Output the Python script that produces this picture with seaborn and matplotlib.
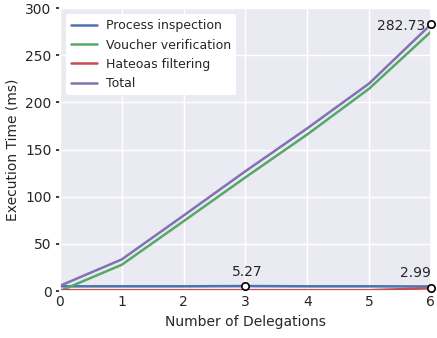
import matplotlib
matplotlib.use("Agg")
import matplotlib.pyplot as plt
import pandas as pd
import seaborn as sns

# data
delegations = [0, 1, 2, 3, 4, 5, 6]
process_inspection = [5.0, 5.0, 5.0, 5.27, 5.0, 5.0, 4.8]
voucher_verification = [0.0, 27.8, 74.0, 120.5, 166.0, 214.5, 274.9]
hateoas_filtering = [0.8, 0.8, 0.8, 0.8, 0.8, 0.8, 2.99]
total = [5.5, 33.5, 80.0, 127.0, 172.5, 220.0, 282.73]

series_names = ["Process inspection", "Voucher verification", "Hateoas filtering", "Total"]
palette = ["#4C72B0", "#55A868", "#C44E52", "#8172B2"]

# highlighted points (x, y)
marked_x = [3, 6, 6]
marked_y = [5.27, 2.99, 282.73]

rows = []
for name, vals in zip(series_names, [process_inspection, voucher_verification, hateoas_filtering, total]):
    for x, v in zip(delegations, vals):
        rows.append({"Number of Delegations": x, "Execution Time (ms)": v, "series": name})
df = pd.DataFrame(rows)

sns.set_theme(style="darkgrid", rc={
    "axes.facecolor": "#EAEAF2",
    "xtick.bottom": True, "ytick.left": True,
    "xtick.major.size": 0, "ytick.major.size": 3,
    "ytick.color": "#262626", "xtick.color": "#262626",
})
plt.rcParams["font.family"] = ["DejaVu Sans"]

fig = plt.figure(figsize=(4.37, 3.38), dpi=100)
ax = fig.add_axes([0.137, 0.139, 0.849, 0.837])

sns.lineplot(data=df, x="Number of Delegations", y="Execution Time (ms)",
             hue="series", palette=palette, linewidth=1.8, ax=ax)

ax.scatter(marked_x, marked_y, s=28, facecolor="white", edgecolor="black",
           linewidth=1.2, zorder=5, clip_on=False)
ax.annotate(f"{marked_y[0]:.2f}", (marked_x[0], marked_y[0]), xytext=(1, 5),
            textcoords="offset points", ha="center", va="bottom", fontsize=10, color="#262626")
ax.annotate(f"{marked_y[1]:.2f}", (marked_x[1], marked_y[1]), xytext=(0, 6),
            textcoords="offset points", ha="right", va="bottom", fontsize=10, color="#262626")
ax.annotate(f"{marked_y[2]:.2f}", (marked_x[2], marked_y[2]), xytext=(-4, -1),
            textcoords="offset points", ha="right", va="center", fontsize=10, color="#262626")

ax.set_xlim(0, 6)
ax.set_ylim(0, 300)
ax.set_xticks(range(0, 7))
ax.set_yticks(range(0, 301, 50))
ax.tick_params(labelsize=10, pad=3)
ax.set_xlabel("Number of Delegations", fontsize=10, color="#262626")
ax.set_ylabel("Execution Time (ms)", fontsize=10, color="#262626")

leg = ax.legend(loc="upper left", frameon=True, facecolor="white", edgecolor="white",
                fontsize=9, framealpha=1, handlelength=2.1, handletextpad=0.7,
                borderaxespad=0.5)
leg.get_frame().set_linewidth(0)

fig.savefig("out.png", dpi=100)
